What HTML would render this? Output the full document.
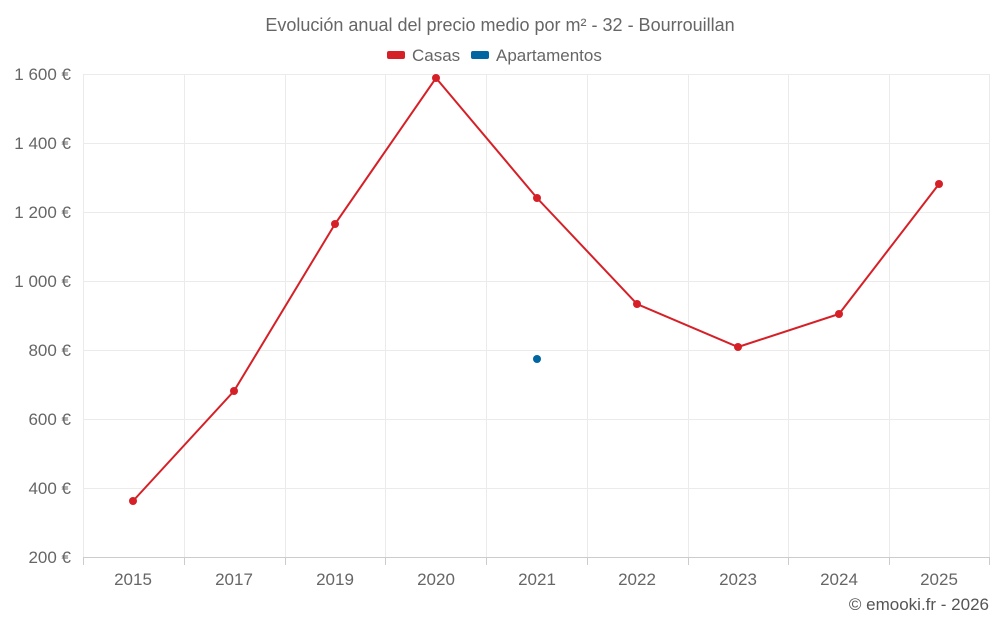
<!DOCTYPE html>
<html><head><meta charset="utf-8"><style>
html,body{margin:0;padding:0;background:#fff;}
svg{display:block;font-family:"Liberation Sans",Roboto,sans-serif;}
</style></head><body>
<svg width="1000" height="625" viewBox="0 0 1000 625" xmlns="http://www.w3.org/2000/svg">
<rect width="1000" height="625" fill="#fff"/>
<text x="500" y="31" text-anchor="middle" font-size="18" fill="#666">Evolución anual del precio medio por m² - 32 - Bourrouillan</text>
<rect x="387" y="51" width="18" height="8" rx="2" fill="#d62027"/>
<text x="412" y="61" font-size="17" fill="#666">Casas</text>
<rect x="471" y="51" width="18" height="8" rx="2" fill="#0066a1"/>
<text x="496" y="61" font-size="17" fill="#666">Apartamentos</text>
<g stroke="#ebebeb" stroke-width="1">
<line x1="83" y1="74.5" x2="990" y2="74.5"/>
<line x1="83" y1="143.5" x2="990" y2="143.5"/>
<line x1="83" y1="212.5" x2="990" y2="212.5"/>
<line x1="83" y1="281.5" x2="990" y2="281.5"/>
<line x1="83" y1="350.5" x2="990" y2="350.5"/>
<line x1="83" y1="419.5" x2="990" y2="419.5"/>
<line x1="83" y1="488.5" x2="990" y2="488.5"/>
<line x1="83.5" y1="74" x2="83.5" y2="557"/>
<line x1="184.5" y1="74" x2="184.5" y2="557"/>
<line x1="285.5" y1="74" x2="285.5" y2="557"/>
<line x1="385.5" y1="74" x2="385.5" y2="557"/>
<line x1="486.5" y1="74" x2="486.5" y2="557"/>
<line x1="587.5" y1="74" x2="587.5" y2="557"/>
<line x1="688.5" y1="74" x2="688.5" y2="557"/>
<line x1="788.5" y1="74" x2="788.5" y2="557"/>
<line x1="889.5" y1="74" x2="889.5" y2="557"/>
<line x1="989.5" y1="74" x2="989.5" y2="557"/>
</g>
<line x1="83" y1="557.5" x2="990" y2="557.5" stroke="#ccc"/>
<g stroke="#ccc">
<line x1="83.5" y1="557" x2="83.5" y2="565"/><line x1="184.5" y1="557" x2="184.5" y2="565"/>
<line x1="285.5" y1="557" x2="285.5" y2="565"/><line x1="385.5" y1="557" x2="385.5" y2="565"/>
<line x1="486.5" y1="557" x2="486.5" y2="565"/><line x1="587.5" y1="557" x2="587.5" y2="565"/>
<line x1="688.5" y1="557" x2="688.5" y2="565"/><line x1="788.5" y1="557" x2="788.5" y2="565"/>
<line x1="889.5" y1="557" x2="889.5" y2="565"/><line x1="989.5" y1="557" x2="989.5" y2="565"/>
</g>
<g font-size="17" fill="#666" text-anchor="end">
<text x="71" y="80">1 600 €</text><text x="71" y="149">1 400 €</text>
<text x="71" y="218">1 200 €</text><text x="71" y="287">1 000 €</text>
<text x="71" y="356">800 €</text><text x="71" y="425">600 €</text>
<text x="71" y="494">400 €</text><text x="71" y="563">200 €</text>
</g>
<g font-size="17" fill="#666" text-anchor="middle">
<text x="133" y="585">2015</text><text x="234" y="585">2017</text><text x="335" y="585">2019</text>
<text x="436" y="585">2020</text><text x="537" y="585">2021</text><text x="637" y="585">2022</text>
<text x="738" y="585">2023</text><text x="839" y="585">2024</text><text x="939" y="585">2025</text>
</g>
<polyline fill="none" stroke="#d62027" stroke-width="2" points="133,501 234,391 335,224 436,78 537,198 637,304 738,347 839,314 939,184"/>
<g fill="#d62027">
<circle cx="133" cy="501" r="4"/><circle cx="234" cy="391" r="4"/><circle cx="335" cy="224" r="4"/>
<circle cx="436" cy="78" r="4"/><circle cx="537" cy="198" r="4"/><circle cx="637" cy="304" r="4"/>
<circle cx="738" cy="347" r="4"/><circle cx="839" cy="314" r="4"/><circle cx="939" cy="184" r="4"/>
</g>
<circle cx="537" cy="359" r="4" fill="#0066a1"/>
<text x="989" y="610" text-anchor="end" font-size="17" fill="#555">© emooki.fr - 2026</text>
</svg>
</body></html>
